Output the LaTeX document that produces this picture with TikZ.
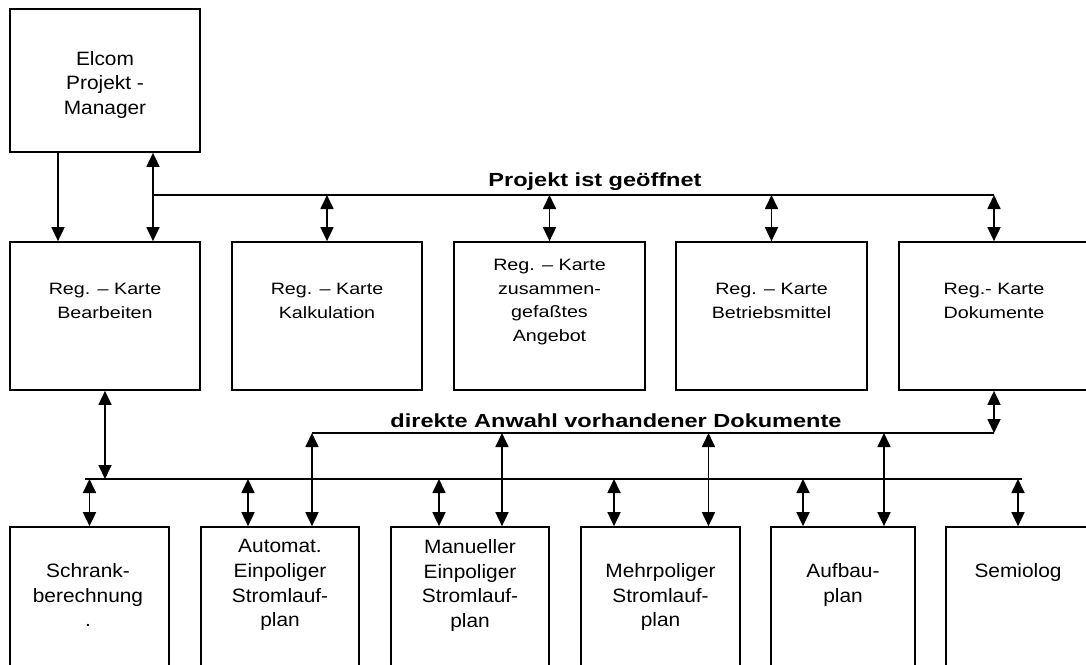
\documentclass[tikz,border=0pt]{standalone}
\usepackage{fontspec}
\usepackage{tikz}
\usetikzlibrary{arrows.meta, calc}
\newfontfamily\boxfont{Liberation Sans}[FakeStretch=1.08]
\newfontfamily\regfont{Liberation Sans}[FakeStretch=1.2]
\newfontfamily\busfont{Liberation Sans}[FakeStretch=1.24]
\tikzset{
  card/.style={rectangle, draw=black, line width=1pt, inner sep=0pt},
  cardtext/.style={anchor=north, inner sep=0pt, align=center},
  pmtext/.style={cardtext, font=\boxfont\fontsize{11}{13.9}\selectfont},
  regtext/.style={cardtext, font=\regfont\fontsize{9.35}{13.4}\selectfont},
  doctext/.style={cardtext, font=\boxfont\fontsize{11}{14.1}\selectfont},
  bustext/.style={anchor=base, inner sep=0pt, font=\busfont\bfseries\fontsize{10.8}{14}\selectfont},
  arrow/.style={-{Triangle[width=0.26cm, length=0.28cm]}, line width=1pt},
  dblarrow/.style={{Triangle[width=0.26cm, length=0.28cm]}-{Triangle[width=0.26cm, length=0.28cm]}, line width=1pt},
  line/.style={line width=1pt}
}
\begin{document}
\begin{tikzpicture}[x=0.02cm, y=-0.02cm]
  \useasboundingbox (0,0) rectangle (1086,664);

  % Project manager
  \node[card, minimum width=3.8cm, minimum height=2.86cm] (pm) at (105,80.5) {};
  \node[pmtext] (pmTxt) at (105,51) {Elcom\\Projekt -\\Manager};

  % Register cards
  \node[card, minimum width=3.8cm, minimum height=2.96cm] (bearb) at (105,316) {};
  \node[card, minimum width=3.8cm, minimum height=2.96cm] (kalk) at (327,316) {};
  \node[card, minimum width=3.82cm, minimum height=2.96cm] (angeb) at (549.5,316) {};
  \node[card, minimum width=3.82cm, minimum height=2.96cm] (betrieb) at (771.5,316) {};
  \node[card, minimum width=3.8cm, minimum height=2.96cm] (dokum) at (994,316) {};
  \node[regtext] (bearbTxt) at (105,283) {Reg. – Karte\\Bearbeiten};
  \node[regtext] (kalkTxt) at (327,283) {Reg. – Karte\\Kalkulation};
  \node[regtext] (angebTxt) at (549.5,259) {Reg. – Karte\\zusammen-\\gefaßtes\\Angebot};
  \node[regtext] (betriebTxt) at (771.5,283) {Reg. – Karte\\Betriebsmittel};
  \node[regtext] (dokumTxt) at (994,283) {Reg.- Karte\\Dokumente};

  % Documents
  \node[card, minimum width=3.18cm, minimum height=2.82cm] (schrank) at (89.5,597.5) {};
  \node[card, minimum width=3.16cm, minimum height=2.82cm] (auto) at (280,597.5) {};
  \node[card, minimum width=3.16cm, minimum height=2.82cm] (manu) at (470,597.5) {};
  \node[card, minimum width=3.18cm, minimum height=2.82cm] (mehr) at (660.5,597.5) {};
  \node[card, minimum width=2.88cm, minimum height=2.82cm] (aufbau) at (843,597.5) {};
  \node[card, minimum width=2.88cm, minimum height=2.82cm] (semio) at (1018,597.5) {};
  \node[doctext] (schrankTxt) at (88,563) {Schrank-\\berechnung\\.};
  \node[doctext] (autoTxt) at (280,539) {Automat.\\Einpoliger\\Stromlauf-\\plan};
  \node[doctext] (manuTxt) at (470,539) {Manueller\\Einpoliger\\Stromlauf-\\plan};
  \node[doctext] (mehrTxt) at (660.5,563) {Mehrpoliger\\Stromlauf-\\plan};
  \node[doctext] (aufbauTxt) at (843,563) {Aufbau-\\plan};
  \node[doctext] (semioTxt) at (1018,563) {Semiolog};

  % Bus lines
  \coordinate (openL) at (153,195);
  \coordinate (openR) at (994,195);
  \coordinate (selL) at (312,433);
  \coordinate (selR) at (994,433);
  \coordinate (busL) at (85,479);
  \coordinate (busR) at (1022,479);
  \node[bustext] (openLbl) at (595,186) {Projekt ist geöffnet};
  \node[bustext] (selLbl) at (616,427) {direkte Anwahl vorhandener Dokumente};
  \draw[line] (openL) -- (openR);
  \draw[line] (selL) -- (selR);
  \draw[line] (busL) -- (busR);

  % Manager to cards
  \draw[arrow] ([xshift=-0.94cm]pm.south) -- ([xshift=-0.94cm]bearb.north);
  \draw[dblarrow] ([xshift=0.96cm]pm.south) -- ([xshift=0.96cm]bearb.north);
  \foreach \n in {kalk, angeb, betrieb, dokum}
    \draw[dblarrow] (\n.north |- openL) -- (\n.north);

  % Cards to documents
  \draw[dblarrow] (bearb.south) -- (bearb.south |- busL);
  \draw[dblarrow] (dokum.south) -- (dokum.south |- selL);
  \foreach \n/\s in {schrank/0, auto/-0.64, manu/-0.62, mehr/-0.93, aufbau/-0.8, semio/0}
    \draw[dblarrow] ([xshift=\s cm]\n.north |- busL) -- ([xshift=\s cm]\n.north);
  \foreach \n/\s in {auto/0.64, manu/0.64, mehr/0.96, aufbau/0.82}
    \draw[dblarrow] ([xshift=\s cm]\n.north |- selL) -- ([xshift=\s cm]\n.north);
\end{tikzpicture}
\end{document}
